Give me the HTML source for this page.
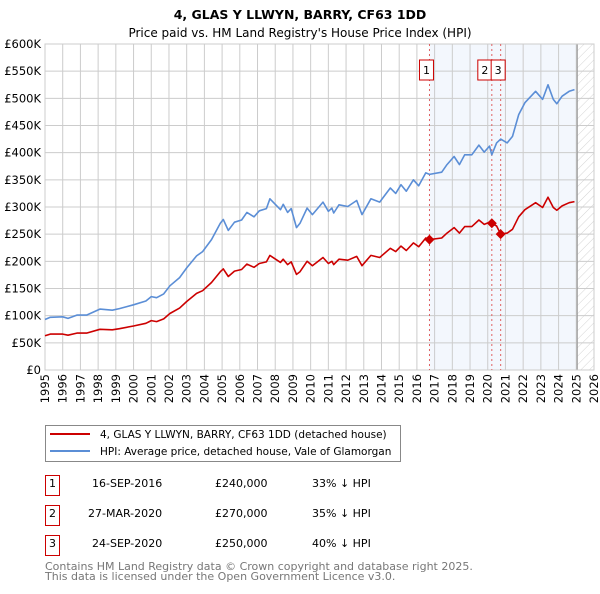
<!DOCTYPE html>
<html><head><meta charset="utf-8"><style>
body{margin:0;background:#fff;font-family:"DejaVu Sans","Liberation Sans",sans-serif;}
svg text{font-family:"DejaVu Sans","Liberation Sans",sans-serif;}
</style></head><body>
<svg id="chart" width="600" height="590" viewBox="0 0 600 590">
<defs><pattern id="hatch" width="6" height="6" patternUnits="userSpaceOnUse" patternTransform="rotate(45)"><line x1="0" y1="0" x2="0" y2="6" stroke="#d4d4d4" stroke-width="1"/></pattern></defs>
<text x="300" y="19" text-anchor="middle" font-size="12.5" font-weight="600">4, GLAS Y LLWYN, BARRY, CF63 1DD</text>
<text x="300" y="37" text-anchor="middle" font-size="12">Price paid vs. HM Land Registry's House Price Index (HPI)</text>
<g id="plot"></g>
<g>
<rect x="45.5" y="425.5" width="355" height="36" fill="#fff" stroke="#888"/>
<line x1="50" y1="434" x2="90" y2="434" stroke="#cc0000" stroke-width="2"/>
<text x="100" y="438" font-size="10.5">4, GLAS Y LLWYN, BARRY, CF63 1DD (detached house)</text>
<line x1="50" y1="451" x2="90" y2="451" stroke="#5b8ed6" stroke-width="2"/>
<text x="100" y="455" font-size="10.5">HPI: Average price, detached house, Vale of Glamorgan</text>
</g>
<g font-size="11">
<rect x="45.5" y="475.5" width="14" height="20" fill="none" stroke="#cc0000"/>
<text x="52.5" y="487" text-anchor="middle">1</text>
<text x="92" y="487">16-SEP-2016</text>
<text x="215" y="487">£240,000</text>
<text x="312" y="487">33% ↓ HPI</text>
<rect x="45.5" y="505.5" width="14" height="20" fill="none" stroke="#cc0000"/>
<text x="52.5" y="517" text-anchor="middle">2</text>
<text x="88" y="517">27-MAR-2020</text>
<text x="215" y="517">£270,000</text>
<text x="312" y="517">35% ↓ HPI</text>
<rect x="45.5" y="535.5" width="14" height="20" fill="none" stroke="#cc0000"/>
<text x="52.5" y="547" text-anchor="middle">3</text>
<text x="92" y="547">24-SEP-2020</text>
<text x="215" y="547">£250,000</text>
<text x="312" y="547">40% ↓ HPI</text>
</g>
<text x="45" y="570" font-size="11" fill="#777">Contains HM Land Registry data © Crown copyright and database right 2025.</text>
<text x="45" y="580" font-size="11" fill="#777">This data is licensed under the Open Government Licence v3.0.</text>
</svg>
<script>
const years=[1995.0,1995.3,1996.0,1996.3,1996.8,1997.35,1998.1,1998.8,1999.2,2000.0,2000.7,2001.0,2001.3,2001.7,2002.05,2002.6,2003.0,2003.56,2003.9,2004.4,2004.9,2005.07,2005.35,2005.7,2006.1,2006.4,2006.8,2007.1,2007.5,2007.7,2008.3,2008.45,2008.7,2008.9,2009.2,2009.4,2009.8,2010.1,2010.7,2011.0,2011.2,2011.3,2011.6,2012.1,2012.6,2012.9,2013.4,2013.9,2014.5,2014.8,2015.1,2015.4,2015.8,2016.1,2016.5,2016.71,2017.4,2017.7,2018.1,2018.4,2018.7,2019.1,2019.5,2019.8,2020.1,2020.23,2020.5,2020.73,2021.1,2021.4,2021.75,2022.1,2022.7,2023.1,2023.4,2023.7,2023.9,2024.2,2024.6,2024.9];
const hpiValues=[93,97,98,95,101,101,112,110,113,120,127,135,133,140,155,170,188,210,218,240,270,277,257,272,276,290,282,293,297,315,295,305,290,297,262,270,298,286,309,292,298,289,304,301,312,286,315,309,335,325,341,329,350,339,363,360,364,378,393,378,396,396,414,401,412,396,418,425,418,430,470,492,513,498,525,498,490,504,513,516];
const priceValues=[63,66,66,64,68,68,75,74,76,81,86,91,89,94,104,114,126,141,146,161,181,186,172,182,185,195,189,196,199,211,198,204,194,199,176,181,200,192,207,196,200,194,204,202,209,192,211,207,224,218,228,220,234,227,243,240,243,252,262,252,264,264,276,268,272,270,265,250,252,259,282,295,308,299,318,299,294,302,308,310];
const saleYears=[2016.71,2020.23,2020.73];
const salePrices=[240,270,250];
const saleLabels=["1","2","3"];
const yTicks=[0,50,100,150,200,250,300,350,400,450,500,550,600];
const yTickLabels=["£0","£50K","£100K","£150K","£200K","£250K","£300K","£350K","£400K","£450K","£500K","£550K","£600K"];
const xTicks=[1995,1996,1997,1998,1999,2000,2001,2002,2003,2004,2005,2006,2007,2008,2009,2010,2011,2012,2013,2014,2015,2016,2017,2018,2019,2020,2021,2022,2023,2024,2025,2026];

const L=45,R=594,T=44,B=370,X0=1995,X1=2026,DATA_END=2025.05;
const xs=y=>L+(y-X0)/(X1-X0)*(R-L);
const ys=v=>B-v/600*(B-T);
const NS="http://www.w3.org/2000/svg";
const g=document.getElementById('plot');
function mk(tag,attrs,parent){const e=document.createElementNS(NS,tag);for(const k in attrs)e.setAttribute(k,attrs[k]);(parent||g).appendChild(e);return e;}

const bg=mk('rect',{x:xs(saleYears[0]),y:T,width:xs(DATA_END)-xs(saleYears[0]),height:B-T,fill:'#eef3fc',opacity:0.7});


const hatch=mk('rect',{x:xs(DATA_END),y:T,width:R-xs(DATA_END),height:B-T,fill:'url(#hatch)'});



yTicks.forEach((v,i)=>{
 const l=mk('line',{x1:L,x2:R,y1:ys(v),y2:ys(v),stroke:'#ccc','stroke-width':1});
 
 
 const t=mk('text',{x:L-4,y:ys(v)+4,'text-anchor':'end','font-size':11.5});
 t.textContent=yTickLabels[i];
 
 
});
xTicks.forEach(yr=>{
 const l=mk('line',{x1:xs(yr),x2:xs(yr),y1:T,y2:B,stroke:'#ccc','stroke-width':1});
 
 
 const t=mk('text',{x:0,y:0,'text-anchor':'end','font-size':11.5,transform:`translate(${xs(yr)+4},${B+4}) rotate(-90)`});
 t.textContent=yr;
 
 
});
const endLine=mk('line',{x1:xs(DATA_END),x2:xs(DATA_END),y1:T,y2:B,stroke:'#999','stroke-width':1.2});


const frame=mk('rect',{x:L,y:T,width:R-L,height:B-T,fill:'none',stroke:'#ccc'});



saleYears.forEach((yr,i)=>{
 const l=mk('line',{x1:xs(yr),x2:xs(yr),y1:T,y2:B,stroke:'#e06060','stroke-width':1,'stroke-dasharray':'2,3'});
 
 
});

const pts=a=>a.map((v,i)=>xs(years[i]).toFixed(1)+','+ys(v).toFixed(1)).join(' ');
const hpi=mk('polyline',{points:pts(hpiValues),fill:'none',stroke:'#5b8ed6','stroke-width':1.6,'stroke-linejoin':'round'});


const pr=mk('polyline',{points:pts(priceValues),fill:'none',stroke:'#cc0000','stroke-width':1.6,'stroke-linejoin':'round'});



const boxOffsets=[-10,-14,-9.5];
saleYears.forEach((yr,i)=>{
 const cx=xs(yr),cy=ys(salePrices[i]);
 const d=mk('polygon',{points:`${cx},${cy-5} ${cx+5},${cy} ${cx},${cy+5} ${cx-5},${cy}`,fill:'#cc0000'});
 
 
 const bx=cx+boxOffsets[i];
 const r=mk('rect',{x:bx,y:60,width:14,height:20,fill:'#fff',stroke:'#cc0000'});
 
 
 const t=mk('text',{x:bx+7,y:74,'text-anchor':'middle','font-size':11});
 t.textContent=saleLabels[i];
 
 
});
</script>
</body></html>
